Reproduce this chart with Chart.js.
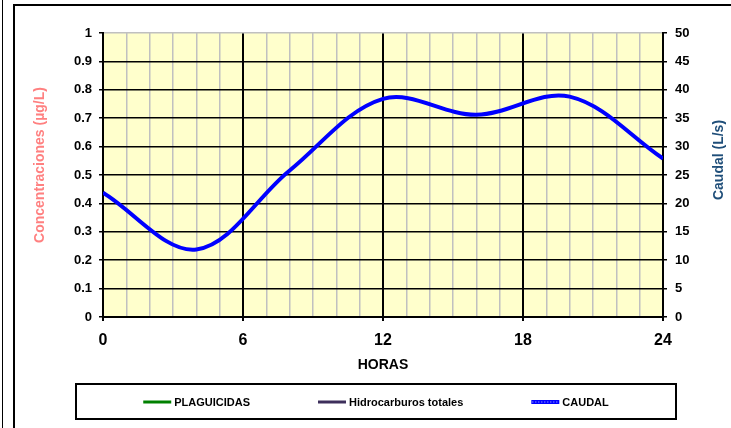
<!DOCTYPE html>
<html><head><meta charset="utf-8">
<script src="https://cdn.jsdelivr.net/npm/chart.js@4.4.1/dist/chart.umd.min.js"></script>
<style>
html,body{margin:0;padding:0;background:#fff;width:731px;height:428px;overflow:hidden;}
#wrap{position:relative;width:731px;height:428px;}
.frame{position:absolute;left:13px;top:4px;width:760px;height:460px;border-left:2px solid #000;border-top:2px solid #000;}
.sideline{position:absolute;left:2px;top:0;width:0;height:428px;border-left:1px solid #000;}
canvas{position:absolute;left:0;top:0;}
</style></head><body>
<div id="wrap"><div class="sideline"></div><div class="frame"></div><canvas id="c" width="731" height="428"></canvas></div>
<script>
// ---- data ----
const hours = [0,4,8,12,16,20,24];
const caudal = [21.9,11.9,25.8,38.4,35.6,38.8,27.9];
const plaguicidas = [];
const hidrocarburos = [];
const xTickLabels = ['0','6','12','18','24'];
const yLeftLabels = ['0','0.1','0.2','0.3','0.4','0.5','0.6','0.7','0.8','0.9','1'];
const yRightLabels = ['0','5','10','15','20','25','30','35','40','45','50'];
const seriesNames = ['PLAGUICIDAS','Hidrocarburos totales','CAUDAL'];
const axisTitles = {x:'HORAS', left:'Concentraciones (µg/L)', right:'Caudal (L/s)'};

// ---- layout constants ----
const W = 731, H = 428;
const PLOT = {left:103, right:663, top:33, bottom:317};
const FONT = 'Arial, "Liberation Sans", sans-serif';
const TENSION = 0.35;
Chart.defaults.font.family = FONT;
Chart.defaults.color = '#000';

const toXY = (xs, ys) => ys.map((v,i)=>({x:xs[i], y:v}));
const isMajor = v => v % 6 === 0;

const bgPlugin = {
  id:'plotBg',
  beforeDraw(chart){
    const {ctx, chartArea:a} = chart;
    ctx.save(); ctx.fillStyle = '#FFFFCC';
    ctx.fillRect(a.left, a.top, a.right-a.left, a.bottom-a.top);
    ctx.restore();
  }
};

const extrasPlugin = {
  id:'extras',
  afterDraw(chart){
    const ctx = chart.ctx;
    ctx.save();
    ctx.font = 'bold 14px ' + FONT;
    ctx.textAlign = 'center'; ctx.textBaseline = 'middle';
    ctx.fillStyle = '#FF8080';
    ctx.translate(40, 165); ctx.rotate(-Math.PI/2);
    ctx.fillText(axisTitles.left, 0, 0);
    ctx.restore();
    ctx.save();
    ctx.font = 'bold 14px ' + FONT;
    ctx.textAlign = 'center'; ctx.textBaseline = 'middle';
    ctx.fillStyle = '#1F4E79';
    ctx.translate(719, 160); ctx.rotate(-Math.PI/2);
    ctx.fillText(axisTitles.right, 0, 0);
    ctx.restore();

    ctx.save();
    ctx.strokeStyle = '#000'; ctx.lineWidth = 2;
    ctx.strokeRect(76, 384, 600, 35);
    const items = chart.data.datasets.filter(d => !d.skipLegend);
    ctx.font = 'bold 11px ' + FONT;
    const lineLen = 28, gap = 3, pad = 68, cy = 402;
    const widths = items.map(d => lineLen + gap + ctx.measureText(d.label).width);
    const total = widths.reduce((a,b)=>a+b,0) + pad*(items.length-1);
    let x = 376 - total/2;
    items.forEach((d,i)=>{
      ctx.beginPath(); ctx.strokeStyle = d.borderColor; ctx.lineWidth = d.legendLineWidth || 3;
      ctx.moveTo(x, cy); ctx.lineTo(x+lineLen, cy); ctx.stroke();
      if (d.textured){
        ctx.beginPath(); ctx.strokeStyle='rgba(225,225,255,0.9)'; ctx.lineWidth=1; ctx.setLineDash([1,2]);
        ctx.moveTo(x+1, cy); ctx.lineTo(x+lineLen-1, cy); ctx.stroke(); ctx.setLineDash([]);
      }
      ctx.fillStyle = '#000'; ctx.textAlign='left'; ctx.textBaseline='middle';
      ctx.fillText(d.label, x+lineLen+gap, cy+0.5);
      x += widths[i] + pad;
    });
    ctx.restore();
  }
};

new Chart(document.getElementById('c'), {
  type:'line',
  data:{
    datasets:[
      {label:seriesNames[0], data:toXY(hours, plaguicidas), borderColor:'#008000', borderWidth:3, pointRadius:0, yAxisID:'y'},
      {label:seriesNames[1], data:toXY(hours, hidrocarburos), borderColor:'#3D2F5B', borderWidth:3, pointRadius:0, yAxisID:'y'},
      {label:seriesNames[2], data:toXY(hours, caudal), borderColor:'#0000FF', borderWidth:4, pointRadius:0, tension:TENSION, yAxisID:'y1', textured:true, legendLineWidth:4},
      {label:seriesNames[2], data:toXY(hours, caudal), borderColor:'rgba(225,225,255,0.85)', borderWidth:1, borderDash:[1,2], pointRadius:0, tension:TENSION, yAxisID:'y1', skipLegend:true}
    ]
  },
  options:{
    responsive:false, animation:false, devicePixelRatio:1,
    layout:{padding:{left:0, right:0, top:PLOT.top, bottom:0}},
    plugins:{legend:{display:false}, tooltip:{enabled:false}},
    scales:{
      x:{
        type:'linear', position:'bottom', min:0, max:24,
        afterFit(s){ s.height = H - PLOT.bottom; },
        ticks:{stepSize:1, autoSkip:false, maxRotation:0, minRotation:0, padding:10, color:'#000',
          font:{size:16, weight:'bold'},
          callback:v => xTickLabels.includes(String(v)) ? String(v) : ''},
        grid:{
          color:c => (c.tick && isMajor(c.tick.value)) ? '#000' : '#C0C0C0',
          lineWidth:c => (c.tick && isMajor(c.tick.value)) ? 2 : 1.5,
          tickColor:c => (c.tick && isMajor(c.tick.value)) ? '#000' : 'rgba(0,0,0,0)',
          tickLength:4
        },
        border:{display:true, color:'#000', width:2},
        title:{display:true, text:axisTitles.x, color:'#000', font:{size:14, weight:'bold'}, padding:{top:0, bottom:54.6}}
      },
      y:{
        position:'left', min:0, max:1,
        afterFit(s){ s.width = PLOT.left; },
        ticks:{stepSize:0.1, padding:7, color:'#000', font:{size:13, weight:'bold'},
          callback:(v,i) => yLeftLabels[i]},
        grid:{
          color:c => (c.tick && c.tick.value >= 1) ? '#C0C0C0' : '#000',
          lineWidth:1.5, tickColor:'#000', tickLength:4
        },
        border:{display:true, color:'#000', width:2}
      },
      y1:{
        position:'right', min:0, max:50,
        afterFit(s){ s.width = W - PLOT.right; },
        ticks:{stepSize:5, padding:8, color:'#000', font:{size:13, weight:'bold'},
          callback:(v,i) => yRightLabels[i]},
        grid:{drawOnChartArea:false, color:'#000', tickColor:'#000', tickLength:4, lineWidth:1.5},
        border:{display:true, color:'#000', width:2}
      }
    }
  },
  plugins:[bgPlugin, extrasPlugin]
});
</script>
</body></html>
